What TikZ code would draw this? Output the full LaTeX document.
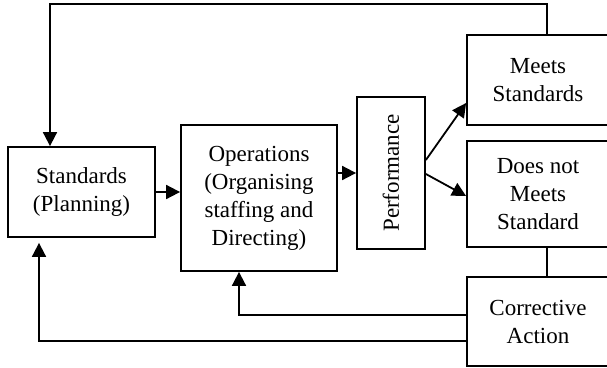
\documentclass[tikz,border=0pt]{standalone}
\usepackage{fontspec}
\setmainfont{Liberation Serif}
\usetikzlibrary{arrows.meta,positioning}

\begin{document}
\begin{tikzpicture}[x=1pt, y=-1pt, line width=1.8pt,
  box/.style={draw, align=center, inner sep=0pt, font=\fontsize{23}{28}\selectfont},
  flow/.style={-{Triangle[length=14pt,width=14pt]}}]
  \useasboundingbox (0,0) rectangle (607,367);
  % control cycle boxes
  \node[box, minimum width=147pt, minimum height=90pt] (std) at (81.5,192) {Standards\\(Planning)};
  \node[box, minimum width=156pt, minimum height=146pt] (ops) at (259,198) {Operations\\(Organising\\staffing and\\Directing)};
  \node[box, rotate=90, minimum width=152pt, minimum height=68pt] (perf) at (391,173) {Performance};
  \node[box, minimum width=142pt, minimum height=90pt] (meets) at (538,80) {Meets\\Standards};
  \node[box, minimum width=142pt, minimum height=106pt] (notmeet) at (538,194) {Does not\\Meets\\Standard};
  \node[box, minimum width=142pt, minimum height=89pt] (corr) at (538,321.5) {Corrective\\Action};
  % forward flow (perf is turned: its north is on the left, its south on the right)
  \draw[flow] (std.east) -- (std.east -| ops.west);
  \draw[flow] (ops.east |- perf.north) -- (perf.north);
  \draw[flow] ([yshift=13pt]perf.south) -- ([yshift=-23pt]meets.west);
  \draw[flow] ([yshift=-1pt]perf.south) -- ([yshift=-2pt]notmeet.west);
  % feedback loops
  \draw[flow] ([xshift=9pt]meets.north) -- ++(0,-30) -| ([xshift=-31.5pt]std.north);
  \draw ([xshift=9pt]notmeet.south) -- ([xshift=9pt]corr.north);
  \draw[flow] ([yshift=6.5pt]corr.west) -| ([xshift=-20pt]ops.south);
  \draw[flow, shorten >=5pt] ([yshift=-19.5pt]corr.west) -| ([xshift=-42.5pt]std.south);
\end{tikzpicture}
\end{document}
